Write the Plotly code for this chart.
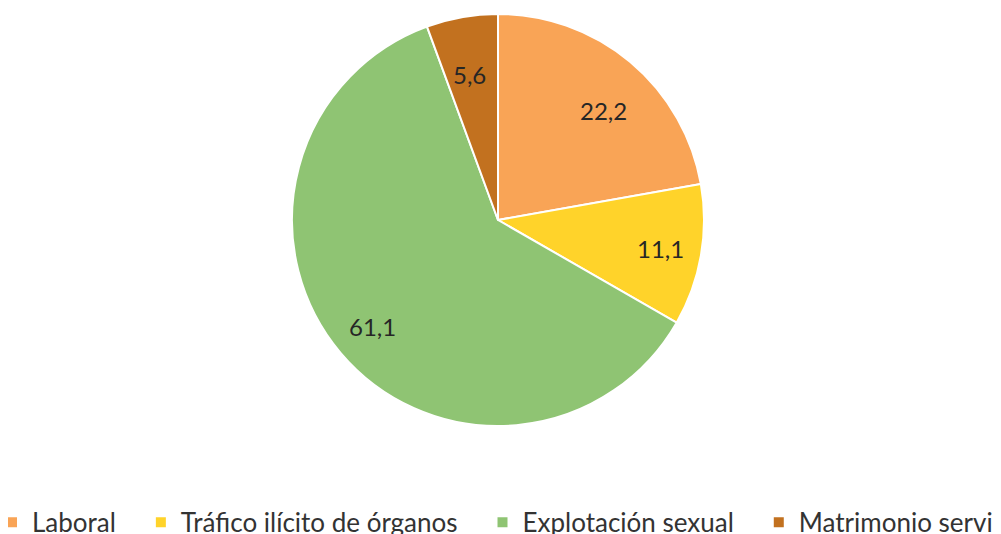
import math
import plotly.graph_objects as go

labels = ["Laboral", "Tráfico ilícito de órganos", "Explotación sexual", "Matrimonio servil"]
values = [22.2, 11.1, 61.1, 5.6]
text_labels = ["22,2", "11,1", "61,1", "5,6"]
colors = ["#F9A456", "#FFD32A", "#8FC473", "#C2711F"]
# extra spacing after each legend entry (non-breaking spaces)
legend_pad = [3, 3, 3, 0]

# figure is a bit wider than the window so the legend stays on one row
# and runs off the right edge, as in the reference
W, H = 1060, 534
OFF = 8  # page body margin
cx, cy, r = 498 - OFF, 220 - OFF, 206  # pie centre and radius in figure pixels

fig = go.Figure(go.Pie(
    labels=[lab + "\u00a0" * p for lab, p in zip(labels, legend_pad)],
    values=values,
    sort=False,
    direction="clockwise",
    rotation=0,
    textinfo="none",
    hoverinfo="label+value",
    marker=dict(colors=colors, line=dict(color="white", width=2)),
    domain=dict(x=[(cx - r) / W, (cx + r) / W],
                y=[(H - cy - r) / H, (H - cy + r) / H]),
))

# data labels, placed at 80% of the radius on each slice's mid angle
total = sum(values)
cum = 0
for v, t in zip(values, text_labels):
    mid = (cum + v / 2) / total * 2 * math.pi
    cum += v
    px_ = cx + 0.8 * r * math.sin(mid)
    py_ = cy - 0.8 * r * math.cos(mid)
    fig.add_annotation(x=px_ / W, y=1 - py_ / H, xref="paper", yref="paper",
                       text=t, showarrow=False,
                       font=dict(size=24, color="#262626"))

fig.update_layout(
    width=W, height=H,
    margin=dict(l=0, r=0, t=0, b=0, autoexpand=False),
    paper_bgcolor="white",
    font=dict(family="Lato, Open Sans, sans-serif", color="#333333"),
    showlegend=True,
    legend=dict(orientation="h", x=-16 / W, xanchor="left", y=-0.007, yanchor="bottom",
                font=dict(size=26, color="#333333"), itemwidth=30),
)
fig.write_html("out.html")
